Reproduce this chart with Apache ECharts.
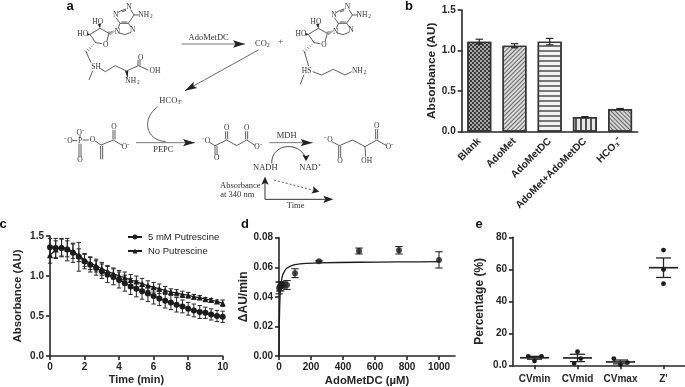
<!DOCTYPE html>
<html><head><meta charset="utf-8">
<style>html,body{margin:0;padding:0;background:#fff}#c{width:685px;height:387px;filter:blur(0.35px)}</style>
<script src="https://cdn.jsdelivr.net/npm/echarts@6/dist/echarts.min.js"></script>
</head><body><div id="c"></div>
<script>
// ---- panel b
const barCategories = ['Blank','AdoMet','AdoMetDC','AdoMet+AdoMetDC','HCO₃⁻'];
const barValues = [1.11,1.06,1.11,0.18,0.28];
const barErrors = [0.03,0.025,0.04,0.006,0.006];
// ---- panel c
const timeMin = [0,0.33,0.67,1,1.33,1.67,2,2.33,2.67,3,3.33,3.67,4,4.33,4.67,5,5.33,5.67,6,6.33,6.67,7,7.33,7.67,8,8.33,8.67,9,9.33,9.67,10];
const putrescine5mM = [1.36,1.35,1.35,1.33,1.29,1.24,1.18,1.14,1.10,1.06,1.02,0.99,0.95,0.91,0.87,0.84,0.81,0.78,0.75,0.72,0.69,0.67,0.64,0.62,0.59,0.57,0.55,0.54,0.52,0.50,0.49];
const putrescine5mMErr = [0.11,0.12,0.11,0.14,0.12,0.18,0.09,0.09,0.09,0.09,0.10,0.10,0.10,0.10,0.10,0.10,0.10,0.10,0.10,0.09,0.09,0.09,0.09,0.08,0.08,0.08,0.08,0.07,0.07,0.07,0.07];
const noPutrescine = [1.26,1.33,1.36,1.34,1.31,1.26,1.20,1.16,1.13,1.09,1.06,1.03,1.00,0.98,0.95,0.93,0.90,0.88,0.86,0.84,0.82,0.80,0.79,0.77,0.76,0.74,0.73,0.71,0.70,0.68,0.66];
const noPutrescineErr = [0.10,0.11,0.11,0.10,0.09,0.08,0.08,0.08,0.08,0.08,0.07,0.07,0.07,0.07,0.07,0.07,0.07,0.06,0.06,0.06,0.05,0.04,0.04,0.04,0.035,0.03,0.025,0.02,0.02,0.02,0.04];
// ---- panel d
const doseX = [1,5,10,20,25,50,100,250,500,750,1000];
const doseY = [0.046,0.047,0.047,0.048,0.048,0.048,0.056,0.064,0.071,0.0715,0.065];
const doseErr = [0.004,0.003,0.003,0.002,0.002,0.003,0.003,0.0005,0.002,0.0025,0.0055];
const fitX = [0,1,2,4,6,8,12,16,23,35,48,88,150,250,500,750,1000];
const fitY = [0,0.0128,0.0213,0.032,0.0384,0.0427,0.048,0.0512,0.0548,0.0574,0.0593,0.0615,0.0625,0.063,0.0634,0.0636,0.0638];
const doseTicks = [0,200,400,600,800,1000];
// ---- panel e
const qcCategories = ['CVmin','CVmid','CVmax',"Z'"];
const qcPoints = [[5.6,2.7,5.6],[1.2,8.5,4.2],[4.2,0.4,1.7],[72,59.8,51]];
const qcMean = [4.7,4.6,2.1,61];
const qcSem = [0.9,2.3,1.2,6.1];

const INK='#262626', AX=1.6;
const FS='"Liberation Sans",Arial,sans-serif', SERIF='"Liberation Serif","Times New Roman",serif';
const swarm=[[-6.3,0,7],[-3.3,0,3.3],[-6.7,0,7],[0,0,0]];

function axisBase(nameSize){return{
  axisLine:{show:true,onZero:false,lineStyle:{color:INK,width:AX}},
  axisTick:{show:true,length:4,lineStyle:{color:INK,width:AX}},
  axisLabel:{color:INK,fontFamily:FS,fontWeight:'bold',fontSize:10,margin:6},
  splitLine:{show:false},
  nameTextStyle:{color:INK,fontFamily:FS,fontWeight:'bold',fontSize:nameSize||11.5},
  nameLocation:'middle'};}
function errSeries(idx,rows,cap,w){return{
  type:'custom',xAxisIndex:idx,yAxisIndex:idx,data:rows,silent:true,z:3,
  renderItem:(p,api)=>{
    const a=api.coord([api.value(0),api.value(1)]),b=api.coord([api.value(0),api.value(2)]);
    const st={stroke:INK,lineWidth:w};
    const L=(x1,y1,x2,y2)=>({type:'line',shape:{x1,y1,x2,y2},style:st});
    return{type:'group',children:[L(a[0],a[1],b[0],b[1]),L(a[0]-cap,a[1],a[0]+cap,a[1]),L(b[0]-cap,b[1],b[0]+cap,b[1])]};
  }};}

// ---- schematic a : coordinates in a 3x sketch space
const S=v=>v/3, g=[];
const DARK='#333';
function ln(x1,y1,x2,y2,w){g.push({type:'line',silent:true,shape:{x1:S(x1),y1:S(y1),x2:S(x2),y2:S(y2)},style:{stroke:DARK,lineWidth:w||0.8}});}
function pl(pts,w){g.push({type:'polyline',silent:true,shape:{points:pts.map(p=>[S(p[0]),S(p[1])])},style:{stroke:DARK,lineWidth:w||0.8,fill:null}});}
function dbl(x1,y1,x2,y2){ln(x1-3,y1,x2-3,y2);ln(x1+3,y1,x2+3,y2);}
function tx(x,y,t,fs){g.push({type:'text',silent:true,x:S(x),y:S(y),style:{text:t,fill:DARK,font:(fs||7.5)+'px '+SERIF,align:'center',verticalAlign:'middle'}});}
function sub(x,y,main,s,dxm,dxs,fs){tx(x+dxm,y,main,fs);tx(x+dxs,y+5,s,(fs||7.5)*0.7);}
function nh2(x,y){sub(x,y,'NH','2',-6,17);}
function head(x,y,ang,len){const a=ang,c=Math.cos(a),s=Math.sin(a),L=len||36,W=11;
  g.push({type:'polygon',silent:true,shape:{points:[[S(x),S(y)],[S(x-L*c-W*s),S(y-L*s+W*c)],[S(x-L*.8*c),S(y-L*.8*s)],[S(x-L*c+W*s),S(y-L*s-W*c)]]},style:{fill:'#222'}});}
function arrow(x1,y1,x2,y2,col,w){g.push({type:'line',silent:true,shape:{x1:S(x1),y1:S(y1),x2:S(x2),y2:S(y2)},style:{stroke:col||'#777',lineWidth:w||1}});head(x2,y2,Math.atan2(y2-y1,x2-x1));}
function hash(x1,y1,x2,y2){for(let i=0;i<6;i++){const t=i/5,x=x1+(x2-x1)*t,y=y1+(y2-y1)*t,h=1+t*5,dx=-(y2-y1),dy=x2-x1,n=Math.hypot(dx,dy);ln(x-dx/n*h,y-dy/n*h,x+dx/n*h,y+dy/n*h,0.6);}}
function wedge(x1,y1,x2,y2){const dx=-(y2-y1),dy=x2-x1,n=Math.hypot(dx,dy),h=5;g.push({type:'polygon',silent:true,shape:{points:[[S(x1),S(y1)],[S(x2+dx/n*h),S(y2+dy/n*h)],[S(x2-dx/n*h),S(y2-dy/n*h)]]},style:{fill:'#222'}});}

function nucleoside(d){
  const X=v=>v+d;
  // adenine
  pl([[X(378),27],[X(363),32],[X(353),38]]);ln(X(378),31,X(365),36);
  ln(X(392),29,X(402),45);
  pl([[X(348),53],[X(360),70],[X(385),70],[X(402),45]]);
  ln(X(385),70,X(394),82);ln(X(360),70,X(354),86);
  ln(X(364),66,X(382),66);
  pl([[X(393),97],[X(374),104],[X(358),99]]);ln(X(402),45,X(418),45);
  tx(X(387),22,'N');tx(X(347),46,'N');nh2(X(437),45);tx(X(398),90,'N');tx(X(352),95,'N');
  // sugar
  pl([[X(327),100],[X(320),125]]);pl([[X(306),131],[X(287),128],[X(270),103],[X(300),85],[X(327),100]]);
  hash(X(345),92,X(329),100);hash(X(287),128,X(258),155);
  wedge(X(300),85,X(298),72);wedge(X(270),103,X(262),103);
  tx(X(293),66,'HO');tx(X(248),102,'HO');tx(X(317),134,'O');
}
nucleoside(0);nucleoside(655);
// AdoMet tail
ln(258,155,273,188);tx(288,202,'SH');ln(278,213,267,240);
pl([[302,206],[316,215],[345,197],[380,213],[415,197],[445,210]]);
dbl(417,197,417,180);tx(422,175,'O');tx(465,214,'OH');wedge(383,235,380,213);nh2(398,242);
// decarboxylated tail
ln(913,155,926,198);tx(920,212,'HS');ln(912,224,901,253);
pl([[938,215],[965,225],[1000,208],[1035,225],[1055,215]]);nh2(1078,213);
// PEP
tx(205,422,'⁻O');ln(217,422,232,422);tx(240,422,'P');ln(248,420,266,420);tx(242,398,'O⁻');ln(240,405,240,414);
dbl(240,431,240,470);tx(240,480,'O');tx(277,420,'O');pl([[285,423],[303,435],[340,420],[367,436]]);
dbl(305,438,305,478);dbl(342,418,342,390);tx(342,380,'O');tx(378,440,'O⁻');
// oxaloacetate
tx(618,422,'⁻O');pl([[628,427],[645,437],[680,420],[710,437],[740,420],[765,436]]);
dbl(648,437,648,464);tx(650,473,'O');dbl(680,418,680,394);tx(680,385,'O');dbl(740,418,740,394);tx(740,385,'O');tx(775,440,'O⁻');
// malate
tx(985,420,'⁻O');pl([[996,425],[1018,437],[1058,420],[1095,440],[1130,420],[1158,436]]);
dbl(1019,438,1019,472);tx(1020,483,'O');ln(1095,440,1097,470);tx(1100,483,'OH');dbl(1130,418,1130,387);tx(1130,377,'O');tx(1170,440,'O⁻');
// arrows & labels
arrow(545,132,735,132);tx(626,112,'AdoMetDC',8.5);sub(788,130,'CO','2',-5,17,8.5);tx(842,125,'+',8.5);
arrow(775,150,555,272,'#444',0.8);sub(510,302,'HCO','3⁻',-5,30,8.5);
g.push({type:'bezierCurve',silent:true,shape:{x1:S(473),y1:S(320),cpx1:S(425),cpy1:S(355),cpx2:S(435),cpy2:S(420),x2:S(497),y2:S(425)},style:{stroke:DARK,lineWidth:0.8,fill:null}});
arrow(408,428,585,428);tx(490,450,'PEPC',8.5);
arrow(808,428,938,428);tx(860,407,'MDH',8.5);
g.push({type:'bezierCurve',silent:true,shape:{x1:S(815),y1:S(490),cpx1:S(815),cpy1:S(425),cpx2:S(905),cpy2:S(425),x2:S(918),y2:S(478)},style:{stroke:DARK,lineWidth:0.9,fill:null}});
head(918,484,Math.PI/2,20);
tx(796,502,'NADH',8.5);tx(930,502,'NAD⁺',8.5);
tx(721,557,'Absorbance',8.5);tx(712,583,'at 340 nm',8.5);
ln(795,598,795,548,1);head(795,530,-Math.PI/2,24);
ln(795,598,975,598,1);head(1000,598,0,30);
g.push({type:'line',silent:true,shape:{x1:S(822),y1:S(540),x2:S(945),y2:S(572)},style:{stroke:DARK,lineWidth:0.8,lineDash:[2,2]}});head(958,575,0.25,22);
tx(887,618,'Time',8.5);
// panel letters
[['a',70,6],['b',409,6],['c',3,224],['d',245,224],['e',479,224]].forEach(([t,x,y])=>g.push({type:'text',silent:true,x,y,style:{text:t,fill:'#111',font:'bold 13px '+FS,align:'center',verticalAlign:'middle'}}));

const hatch=(rot,a,b,col)=>({symbol:'rect',color:col,dashArrayX:[1,0],dashArrayY:[a,b],rotation:rot});
const barDecals=[
  {symbol:'rect',color:'#3a3a3a',dashArrayX:[[2,2],[0,2,2,0]],dashArrayY:[2,0],rotation:0},
  hatch(-Math.PI/4,1,1.4,'#666'),
  {symbol:'rect',color:'#777',dashArrayX:[1,0],dashArrayY:[1.3,2.8],rotation:0},
  {symbol:'rect',color:'#555',dashArrayX:[[2,2.5]],dashArrayY:[1,0],rotation:0},
  hatch(Math.PI/4,1,1.4,'#666')
];
const barFill=['#a8a8a8','#dcdcdc','#f2f2f2','#e8e8e8','#d4d4d4'];

const grids=[
  {left:461.7,top:10,width:176,height:121.7},
  {left:50,top:236,width:172.7,height:120},
  {left:279,top:237.7,width:176,height:118.3},
  {left:513,top:237.3,width:172,height:128}
];
const yl=f=>Object.assign(axisBase().axisLabel,{formatter:f});

const opt={
  animation:false,backgroundColor:'#fff',
  graphic:g,
  grid:grids,
  legend:{data:[{name:'5 mM Putrescine'},{name:'No Putrescine'}],orient:'vertical',left:122,top:227,itemWidth:14,itemHeight:6,itemGap:4,
    textStyle:{fontFamily:FS,fontSize:9.5,color:'#222',padding:[0,0,0,1]},selectedMode:false},
  xAxis:[
    Object.assign(axisBase(),{gridIndex:0,type:'category',data:barCategories,axisTick:{show:false},
      axisLabel:{color:INK,fontFamily:FS,fontWeight:'bold',fontSize:10.2,rotate:45,margin:8,interval:0}}),
    Object.assign(axisBase(11),{gridIndex:1,type:'value',min:0,max:10,interval:2,name:'Time (min)',nameGap:18}),
    Object.assign(axisBase(11.3),{gridIndex:2,type:'value',min:0,max:1100,name:'AdoMetDC (µM)',nameGap:19,
      axisTick:{show:true,length:4,lineStyle:{color:INK,width:AX},customValues:doseTicks},
      axisLabel:{color:INK,fontFamily:FS,fontWeight:'bold',fontSize:10,margin:6,customValues:doseTicks,formatter:v=>String(v)}}),
    Object.assign(axisBase(),{gridIndex:3,type:'category',data:qcCategories,axisTick:{show:true,alignWithLabel:true,length:4,lineStyle:{color:INK,width:AX}},
      axisLabel:{color:INK,fontFamily:FS,fontWeight:'bold',fontSize:10,margin:9,interval:0}})
  ],
  yAxis:[
    Object.assign(axisBase(11.8),{gridIndex:0,type:'value',min:0,max:1.5,interval:0.5,name:'Absorbance (AU)',nameGap:24,axisLabel:yl(v=>v.toFixed(1))}),
    Object.assign(axisBase(11.4),{gridIndex:1,type:'value',min:0,max:1.5,interval:0.5,name:'Absorbance (AU)',nameGap:27,axisLabel:yl(v=>v.toFixed(1))}),
    Object.assign(axisBase(12),{gridIndex:2,type:'value',min:0,max:0.08,interval:0.02,name:'ΔAU/min',nameGap:29,axisLabel:yl(v=>v.toFixed(2))}),
    Object.assign(axisBase(12),{gridIndex:3,type:'value',min:0,max:80,interval:20,name:'Percentage (%)',nameGap:27,axisLabel:yl(v=>v===0?'0.0':String(v))})
  ],
  series:[
    {type:'bar',xAxisIndex:0,yAxisIndex:0,barWidth:24,silent:true,
     data:barValues.map((v,i)=>({value:v,itemStyle:{color:barFill[i],decal:barDecals[i],borderColor:'#333',borderWidth:1.4}}))},
    errSeries(0,barCategories.map((c,i)=>[c,barValues[i]-barErrors[i],barValues[i]+barErrors[i]]),3.7,1.2),
    errSeries(1,timeMin.map((t,i)=>[t,putrescine5mM[i]-putrescine5mMErr[i],putrescine5mM[i]+putrescine5mMErr[i]]),2.2,1),
    errSeries(1,timeMin.map((t,i)=>[t,noPutrescine[i]-noPutrescineErr[i],noPutrescine[i]+noPutrescineErr[i]]),2.2,1),
    {type:'line',name:'5 mM Putrescine',xAxisIndex:1,yAxisIndex:1,data:timeMin.map((t,i)=>[t,putrescine5mM[i]]),symbol:'circle',symbolSize:6,showSymbol:true,showAllSymbol:true,
     lineStyle:{color:'#1c1c1c',width:1.2},itemStyle:{color:'#1c1c1c'},silent:true,z:4},
    {type:'line',name:'No Putrescine',xAxisIndex:1,yAxisIndex:1,data:timeMin.map((t,i)=>[t,noPutrescine[i]]),symbol:'triangle',symbolSize:6,showSymbol:true,showAllSymbol:true,
     lineStyle:{color:'#1c1c1c',width:1.2},itemStyle:{color:'#1c1c1c'},silent:true,z:4},
    {type:'line',name:'fit',xAxisIndex:2,yAxisIndex:2,data:fitX.map((x,i)=>[x,fitY[i]]),symbol:'none',smooth:0.3,lineStyle:{color:'#1c1c1c',width:1.3},silent:true,z:4},
    errSeries(2,doseX.map((x,i)=>[x,doseY[i]-doseErr[i],doseY[i]+doseErr[i]]),3.7,1.1),
    {type:'scatter',xAxisIndex:2,yAxisIndex:2,data:doseX.map((x,i)=>[x,doseY[i]]),symbol:'circle',symbolSize:6,itemStyle:{color:'#1c1c1c'},silent:true,z:5},
    errSeries(3,qcCategories.map((c,i)=>[c,qcMean[i]-qcSem[i],qcMean[i]+qcSem[i]]),7.5,1.3),
    {type:'custom',xAxisIndex:3,yAxisIndex:3,silent:true,z:4,data:qcCategories.map((c,i)=>[c,qcMean[i]]),
     renderItem:(p,api)=>{const a=api.coord([api.value(0),api.value(1)]);
       return{type:'line',shape:{x1:a[0]-14.5,y1:a[1],x2:a[0]+14.5,y2:a[1]},style:{stroke:INK,lineWidth:1.7}};}},
    {type:'custom',xAxisIndex:3,yAxisIndex:3,silent:true,z:5,
     data:qcCategories.flatMap((c,i)=>qcPoints[i].map((v,j)=>[c,v,swarm[i][j]])),
     renderItem:(p,api)=>{const a=api.coord([api.value(0),api.value(1)]);
       return{type:'circle',shape:{cx:a[0]+api.value(2),cy:a[1],r:2.4},style:{fill:'#1c1c1c'}};}}
  ]
};
const chart=echarts.init(document.getElementById('c'),null,{renderer:'canvas',width:685,height:387});
chart.setOption(opt);
</script></body></html>
